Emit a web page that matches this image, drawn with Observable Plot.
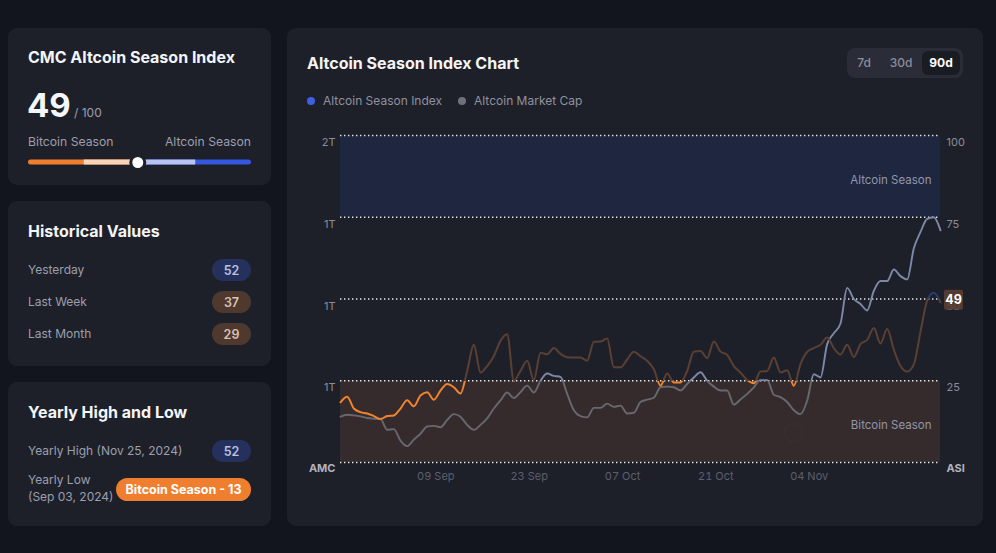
<!DOCTYPE html>
<html>
<head>
<meta charset="utf-8">
<script src="https://cdn.jsdelivr.net/npm/d3@7"></script>
<script src="https://cdn.jsdelivr.net/npm/@observablehq/plot@0.6"></script>
<style>
  html, body { margin: 0; padding: 0; }
  body { width: 996px; height: 553px; overflow: hidden; background: #12151d; position: relative;
         font-family: Inter, "Noto Sans", "DejaVu Sans", sans-serif; }
  .card { position: absolute; background: #1e2029; border-radius: 9px; }
  .t { position: absolute; white-space: nowrap; line-height: 1; }
  .h { font-weight: 700; color: #f3f4f6; }
  .g { color: #9c9fad; }
  .pill { position: absolute; border-radius: 12px; font-size: 12.5px; font-weight: 600;
          display: flex; align-items: center; justify-content: center; }
  .navy { background: #25315d; color: #b9c2e3; }
  .brown { background: #4f392f; color: #d6c1b5; }
  .abs { position: absolute; }
</style>
</head>
<body>
<script>
// ---------------- data ----------------
const startDay = "2024-08-26";
const indexValues = [
  18.4, 20.1, 16.5, 15.4, 15.0, 14.2, 13.3, 14.2, 14.4, 16.5,
  19.0, 17.2, 20.5, 21.5, 19.2, 22.0, 24.0, 23.0, 21.1, 28.0,
  36.0, 27.5, 29.5, 32.5, 37.2, 39.2, 25.0, 28.0, 31.1, 25.2,
  33.6, 33.1, 35.0, 33.2, 32.2, 32.1, 32.1, 31.1, 36.9, 37.0,
  37.9, 29.1, 29.1, 31.5, 33.9, 32.5, 31.1, 28.5, 23.5, 27.2,
  24.5, 24.5, 28.0, 33.9, 34.1, 31.9, 37.0, 33.9, 32.9, 29.5,
  27.5, 25.2, 24.2, 27.8, 28.0, 32.1, 27.5, 28.2, 23.5, 30.1,
  33.8, 35.0, 36.0, 38.2, 35.0, 33.0, 36.0, 32.3, 36.2, 37.5,
  41.1, 36.4, 40.8, 34.5, 29.5, 27.8, 30.0, 40.0, 49.5, 51.9, 49
];
const mcapValues = [
  14.0, 14.6, 14.4, 14.1, 13.6, 13.4, 13.3, 10.0, 10.2, 6.7,
  5.0, 7.0, 8.8, 11.0, 11.2, 10.8, 13.0, 14.8, 14.0, 11.5,
  10.0, 11.5, 13.5, 16.5, 19.0, 21.4, 19.7, 21.5, 23.5, 21.4,
  25.0, 27.2, 26.5, 26.2, 21.0, 16.0, 14.2, 13.8, 16.7, 16.7,
  18.0, 17.0, 17.4, 15.0, 15.2, 18.5, 19.2, 19.8, 23.0, 23.2,
  23.0, 22.0, 24.0, 26.0, 27.6, 25.0, 23.2, 22.0, 22.0, 17.7,
  19.3, 21.0, 23.0, 25.2, 25.2, 20.7, 20.0, 18.5, 16.0, 14.8,
  18.9, 27.0, 26.0, 36.2, 39.5, 42.5, 53.4, 50.0, 48.5, 46.5,
  52.5, 55.5, 55.5, 59.0, 57.0, 56.0, 65.5, 70.5, 74.5, 75.0, 71.0
];
const gridValues = [0, 25, 50, 75, 100];
const leftTickLabels = ["AMC", "1T", "1T", "1T", "2T"];
const rightTickLabels = ["ASI", "25", "50", "75", "100"];
const xTickDates = ["2024-09-09", "2024-09-23", "2024-10-07", "2024-10-21", "2024-11-04"];
const zoneNames = ["Bitcoin Season", "Altcoin Season"];
const zoneBounds = [[0, 25], [75, 100]];
const currentValue = 49;
const historyLabels = ["Yesterday", "Last Week", "Last Month"];
const historyValues = [52, 37, 29];
const yearlyHighLabel = "Yearly High (Nov 25, 2024)";
const yearlyHighValue = 52;
const yearlyLowLabel = ["Yearly Low", "(Sep 03, 2024)"];
const yearlyLowValue = 13;
const sliderStops = [0, 25, 50, 75, 100];
const sliderColors = ["#ef7f2e", "#f8d4b8", "#b8c2f3", "#3556df"];
const legendNames = ["Altcoin Season Index", "Altcoin Market Cap"];
const legendColors = ["#3f5fe6", "#6e717d"];
const rangeButtons = ["7d", "30d", "90d"];

// ---------------- helpers ----------------
const body = document.body;
function el(tag, cls, style, text) {
  const e = document.createElement(tag);
  if (cls) e.className = cls;
  Object.assign(e.style, style || {});
  if (text != null) e.textContent = text;
  body.appendChild(e);
  return e;
}
function txt(cls, x, cy, size, text, extra) {
  return el("div", "t " + cls, Object.assign({left: x + "px", top: (cy - size / 2) + "px", fontSize: size + "px"}, extra || {}), text);
}
function txtR(cls, right, cy, size, text, extra) {
  return el("div", "t " + cls, Object.assign({right: (996 - right) + "px", top: (cy - size / 2) + "px", fontSize: size + "px"}, extra || {}), text);
}

// ---------------- cards ----------------
el("div", "card", {left: "8px", top: "28px", width: "263px", height: "157px"});
el("div", "card", {left: "8px", top: "201px", width: "263px", height: "165px"});
el("div", "card", {left: "8px", top: "382px", width: "263px", height: "144px"});
el("div", "card", {left: "287px", top: "28px", width: "696px", height: "498px"});

txt("h", 28, 57, 16, "CMC Altcoin Season Index");
el("div", "t", {left: "27px", top: "88.5px", fontSize: "33px", fontWeight: "700", color: "#f5f6f8"}, String(currentValue));
el("div", "t", {left: "74px", top: "106.6px", fontSize: "12px", color: "#9c9fad"}, "/ 100");
txt("g", 28, 142, 12.2, "Bitcoin Season");
txtR("g", 251, 142, 12.2, "Altcoin Season");

// slider drawn with Plot
const sliderSegs = sliderColors.map((c, i) => ({from: sliderStops[i], to: sliderStops[i + 1], color: c}));
const sliderHalves = [
  {from: sliderStops[0], to: sliderStops[2], color: sliderColors[0]},
  {from: sliderStops[2], to: sliderStops[4], color: sliderColors[3]}
];
const slider = Plot.plot({
  width: 235, height: 20, marginLeft: 6, marginRight: 6, marginTop: 7.5, marginBottom: 7.5,
  style: {background: "transparent", overflow: "visible"},
  x: {domain: [0, 100], axis: null},
  marks: [
    Plot.rect(sliderHalves, {x1: "from", x2: "to", fill: d => d.color, rx: 2.5}),
    Plot.rect(sliderSegs.slice(1, 3), {x1: "from", x2: "to", fill: d => d.color}),
    Plot.dot([currentValue], {x: d => d, r: 7, fill: "#ffffff", stroke: "#1e2029", strokeWidth: 3})
  ]
});
Object.assign(slider.style, {position: "absolute", left: "22px", top: "152px"});
body.appendChild(slider);

// historical values
txt("h", 28, 231, 16, "Historical Values");
historyLabels.forEach((lab, i) => {
  const cy = 270 + i * 32;
  txt("g", 28, cy, 12, lab);
  const v = historyValues[i];
  el("div", "pill " + (v >= 50 ? "navy" : "brown"), {left: "212px", top: (cy - 11) + "px", width: "39px", height: "22px"}, String(v));
});

// yearly high and low
txt("h", 28, 412, 16, "Yearly High and Low");
txt("g", 28, 451, 12, yearlyHighLabel);
el("div", "pill navy", {left: "212px", top: "440px", width: "39px", height: "22px"}, String(yearlyHighValue));
txt("g", 28, 480, 12, yearlyLowLabel[0]);
txt("g", 28, 497, 12, yearlyLowLabel[1]);
el("div", "pill", {left: "116px", top: "477.5px", width: "135px", height: "23px", background: "#ef7f2e", color: "#ffffff", fontWeight: "700"},
   "Bitcoin Season - " + yearlyLowValue);

// ---------------- chart card header ----------------
txt("h", 307, 63, 16, "Altcoin Season Index Chart");
el("div", "abs", {left: "847px", top: "48px", width: "116px", height: "30px", background: "#2a2c37", borderRadius: "8px"});
el("div", "abs", {left: "922px", top: "51px", width: "38px", height: "24px", background: "#1a1c24", borderRadius: "6px"});
const btnCenters = [864, 901, 941];
rangeButtons.forEach((b, i) => {
  const active = i === rangeButtons.length - 1;
  el("div", "t", {left: (btnCenters[i] - 20) + "px", width: "40px", textAlign: "center", top: (63 - 6) + "px", fontSize: "12px",
    fontWeight: active ? "700" : "500", color: active ? "#ffffff" : "#8b8e9b"}, b);
});
const legendX = [311, 462];
legendNames.forEach((n, i) => {
  el("div", "abs", {left: (legendX[i] - 4) + "px", top: "97px", width: "8px", height: "8px", borderRadius: "4px", background: legendColors[i]});
  txt("g", legendX[i] + 12, 101, 12, n, {color: "#8e91a0"});
});

// ---------------- main chart ----------------
const dates = indexValues.map((_, i) => d3.utcDay.offset(new Date(startDay), i));
const indexRows = indexValues.map((v, i) => ({date: dates[i], v}));
const mcapRows = mcapValues.map((v, i) => ({date: dates[i], v}));
const zones = zoneNames.map((name, i) => ({name, y1: zoneBounds[i][0], y2: zoneBounds[i][1], mid: (zoneBounds[i][0] + zoneBounds[i][1]) / 2}));
const ticksLeft = gridValues.map((v, i) => ({v, label: leftTickLabels[i], bold: i === 0}));
const ticksRight = gridValues.map((v, i) => ({v, label: rightTickLabels[i], bold: i === 0}));

const chart = Plot.plot({
  width: 680, height: 365,
  marginLeft: 40, marginRight: 40, marginTop: 10, marginBottom: 28,
  style: {background: "transparent", color: "#5c5f6d", fontFamily: "Inter, 'Noto Sans', sans-serif", fontSize: "11px", overflow: "visible"},
  x: {type: "utc", domain: [dates[0], dates[dates.length - 1]]},
  y: {domain: [0, 100], axis: null},
  marks: [
    Plot.rect(zones.filter(z => z.name === "Altcoin Season"), {y1: "y1", y2: "y2", fill: "#1f2640"}),
    Plot.rect(zones.filter(z => z.name === "Bitcoin Season"), {y1: "y1", y2: "y2", fill: "#352b2d"}),
    Plot.dot([zones[0]], {y: "y1", frameAnchor: "right", dx: -147, dy: -30, r: 9, stroke: "#ffffff", strokeOpacity: 0.014, strokeWidth: 2, fill: "none"}),
    Plot.text([zones[0]], {y: "y1", text: () => "CoinMarketCap", frameAnchor: "right", dx: -20, dy: -27, textAnchor: "end", fontSize: 16, fontWeight: 600, fill: "#ffffff", fillOpacity: 0.02}),
    Plot.ruleY(gridValues, {stroke: "#ffffff", strokeOpacity: 0.9, strokeWidth: 1.4, strokeDasharray: "1.4 2.6"}),
    Plot.text(zones, {y: "mid", text: "name", frameAnchor: "right", dx: -9, dy: 4, textAnchor: "end", fill: "#9297a9", fontSize: 11.5}),
    Plot.line(mcapRows, {x: "date", y: "v", stroke: "url(#mcapGrad)", strokeWidth: 1.9, curve: "monotone-x"}),
    Plot.line(indexRows, {x: "date", y: "v", stroke: "url(#idxGrad)", strokeWidth: 2, curve: "monotone-x"}),
    Plot.axisX({ticks: xTickDates.map(d => new Date(d)), tickFormat: d3.utcFormat("%d %b"), tickSize: 0, tickPadding: 10, fill: "#5c5f6d", fontSize: 11, dx: 2}),
    Plot.text(ticksLeft.filter(d => !d.bold), {y: "v", text: "label", frameAnchor: "left", dx: -5, dy: 7, textAnchor: "end", fill: "#8a8d99", fontSize: 11}),
    Plot.text(ticksLeft.filter(d => d.bold), {y: "v", text: "label", frameAnchor: "left", dx: -5, dy: 6, textAnchor: "end", fill: "#b0b2bd", fontSize: 11, fontWeight: 700}),
    Plot.text(ticksRight.filter(d => !d.bold), {y: "v", text: "label", frameAnchor: "right", dx: 6, dy: 7, textAnchor: "start", fill: "#8a8d99", fontSize: 11}),
    Plot.text(ticksRight.filter(d => d.bold), {y: "v", text: "label", frameAnchor: "right", dx: 6, dy: 6, textAnchor: "start", fill: "#b0b2bd", fontSize: 11, fontWeight: 700})
  ]
});
Object.assign(chart.style, {position: "absolute", left: "300px", top: "125px"});
body.appendChild(chart);

// gradients for threshold-coloured lines, positioned with the y scale
const ys = chart.scale("y");
const svg = d3.select(chart);
const defs = svg.insert("defs", ":first-child");
function hardGradient(id, stops) {
  const g = defs.append("linearGradient").attr("id", id).attr("gradientUnits", "userSpaceOnUse")
    .attr("x1", 0).attr("x2", 0).attr("y1", ys.apply(0)).attr("y2", ys.apply(100));
  stops.forEach(([from, to, color]) => {
    g.append("stop").attr("offset", from / 100).attr("stop-color", color);
    g.append("stop").attr("offset", to / 100).attr("stop-color", color);
  });
}
hardGradient("idxGrad", [[0, 25, "#f0832c"], [25, 50, "#5a3f33"], [50, 100, "#2a3b72"]]);
hardGradient("mcapGrad", [[0, 25, "#67676f"], [25, 100, "#7e88a6"]]);

// current value badge at right axis
const last = indexValues[indexValues.length - 1];
const fr = 680 - 40;
const by = ys.apply(last) - 2;
svg.append("rect").attr("x", fr + 4).attr("y", by - 10).attr("width", 19).attr("height", 20).attr("rx", 2)
  .attr("fill", "#5b3f33").attr("fill-opacity", 0.88);
svg.append("text").attr("x", fr + 13.5).attr("y", by).attr("dy", "0.36em").attr("text-anchor", "middle")
  .attr("fill", "#ffffff").attr("font-size", 12.5).attr("font-weight", 700).text(String(last));
</script>
</body>
</html>
